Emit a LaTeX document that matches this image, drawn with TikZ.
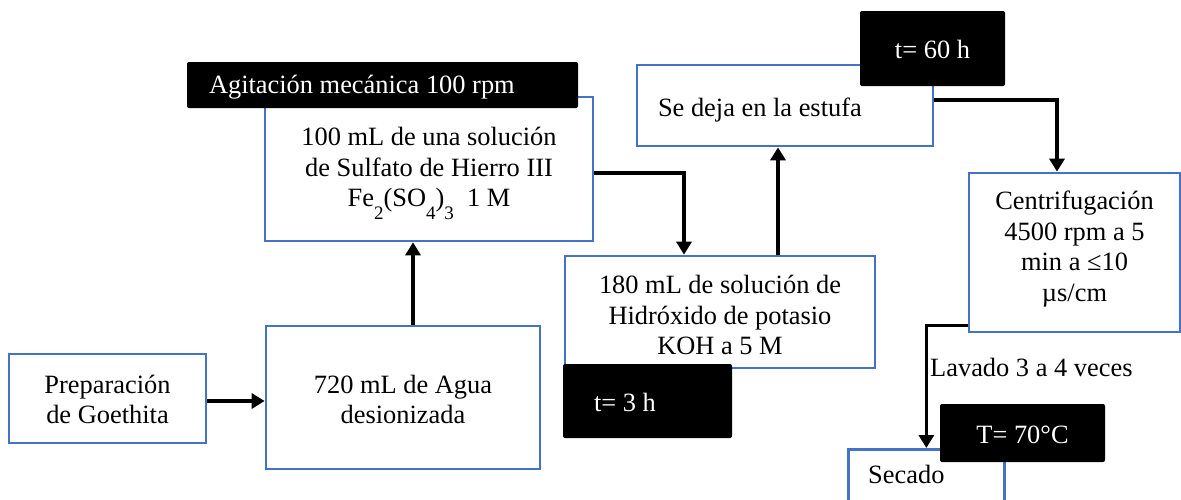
\documentclass[tikz,border=0pt]{standalone}
\usepackage{fontspec}
\setmainfont{Liberation Serif}
\usetikzlibrary{arrows.meta,calc}
\definecolor{boxblue}{HTML}{4472C4}
\newcommand{\lowsub}[1]{\raisebox{-13pt}{\fontsize{19}{19}\selectfont #1}}
\newcommand{\shiftlines}[2]{\raisebox{#1}[\height][\depth]{\begin{tabular}{@{}c@{}}#2\end{tabular}}}
\newcommand{\shiftone}[2]{\raisebox{#1}[\height][\depth]{#2}}
\begin{document}
\begin{tikzpicture}[x=1pt,y=-1pt,
  every node/.style={font=\fontsize{26.4}{30.5}\selectfont},
  bluebox/.style={draw=boxblue, line width=2.7pt, fill=white, align=center, inner sep=0pt},
  blackbox/.style={fill=black, text=white, rounded corners=2pt, inner sep=0pt, align=center},
  conn/.style={line width=3.5pt, -{Triangle[length=13pt,width=15pt]}}]
\path[use as bounding box, clip] (0,0) rectangle (1181,499);

% process boxes
\node[bluebox, minimum width=197pt, minimum height=89pt] (prep) at (107.5,398.5) {\shiftlines{-4pt}{Preparación\\de Goethita}};
\node[bluebox, minimum width=274pt, minimum height=143pt] (water) at (403,397.5) {\shiftlines{-5pt}{720 mL de Agua\\desionizada}};
\node[bluebox, minimum width=328pt, minimum height=144pt] (fe) at (429,169) {\shiftlines{-3pt}{100 mL de una solución\\de Sulfato de Hierro III\\Fe\lowsub{2}(SO\lowsub{4})\lowsub{3}\ \ 1 M}};
\node[bluebox, minimum width=310pt, minimum height=112pt] (koh) at (720,312) {\shiftlines{-6pt}{180 mL de solución de\\Hidróxido de potasio\\KOH a 5 M}};
\node[bluebox, minimum width=296pt, minimum height=81pt, text width=254pt, align=flush left] (sedeja) at (785,105.5) {\shiftone{-5pt}{Se deja en la estufa}};
\node[bluebox, minimum width=211pt, minimum height=159pt] (centri) at (1074.5,252.5) {\shiftlines{3pt}{Centrifugación\\4500 rpm a 5\\min a ≤10\\µs/cm}};
\node[bluebox, minimum width=156pt, minimum height=90pt, anchor=north west] (secado) at (847,448) {};
\node[anchor=base west, inner sep=0pt] (secadotxt) at (868,483) {Secado};

% condition labels
\node[blackbox, minimum width=391pt, minimum height=46pt, text width=347pt, align=flush left] (agit) at (382.5,85) {\shiftone{-2pt}{Agitación mecánica 100 rpm}};
\node[blackbox, minimum width=145pt, minimum height=75pt] (t60) at (932.5,48.5) {\shiftone{-1pt}{t= 60 h}};
\node[blackbox, minimum width=169pt, minimum height=74pt, text width=107pt, align=flush left] (t3) at (647.5,401) {\shiftone{-1pt}{t= 3 h}};
\node[blackbox, minimum width=165pt, minimum height=58pt] (t70) at (1022.5,433) {\shiftone{-2pt}{T= 70°C}};
\node[anchor=west, inner sep=0pt] (lavado) at (930,367) {Lavado 3 a 4 veces};

% connectors
\coordinate (p1) at ($(prep.east)+(0,2.5)$);
\draw[conn] (p1) -- (p1 -| water.west);
\coordinate (w1) at ($(water.north)+(10,0)$);
\draw[conn] (w1) -- (w1 |- fe.south);
\coordinate (f1) at ($(fe.east)+(0,4)$);
\coordinate (k1) at ($(koh.north)+(-36,0)$);
\draw[conn] (f1) -| (k1);
\coordinate (k2) at ($(koh.north)+(58,0)$);
\draw[conn] (k2) -- (k2 |- sedeja.south);
\coordinate (s1) at ($(sedeja.east)+(0,-5.5)$);
\coordinate (c1) at ($(centri.north)+(-17.5,0)$);
\draw[conn] (s1) -| (c1);
\coordinate (c2) at ($(centri.south west)+(0,-8)$);
\draw[conn] (c2) -| (secado.north);
\end{tikzpicture}
\end{document}
